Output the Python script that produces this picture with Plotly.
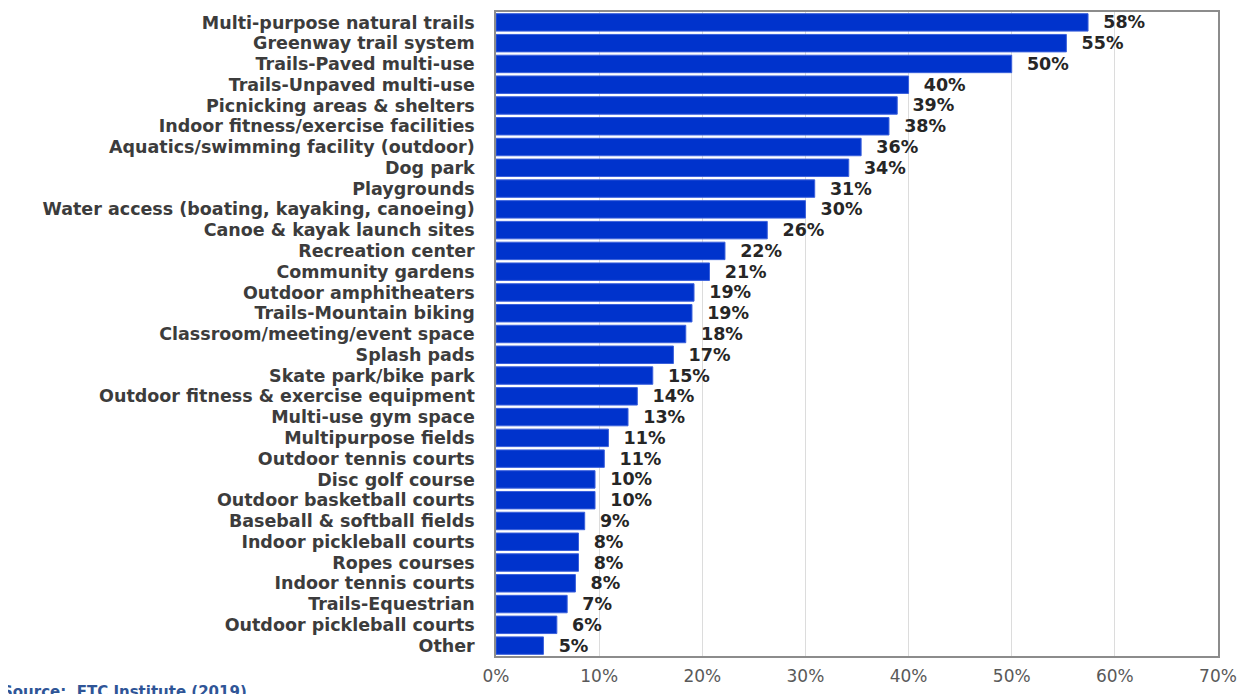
import plotly.graph_objects as go

categories = [
    "Multi-purpose natural trails", "Greenway trail system", "Trails-Paved multi-use",
    "Trails-Unpaved multi-use", "Picnicking areas & shelters", "Indoor fitness/exercise facilities",
    "Aquatics/swimming facility (outdoor)", "Dog park", "Playgrounds",
    "Water access (boating, kayaking, canoeing)", "Canoe & kayak launch sites", "Recreation center",
    "Community gardens", "Outdoor amphitheaters", "Trails-Mountain biking",
    "Classroom/meeting/event space", "Splash pads", "Skate park/bike park",
    "Outdoor fitness & exercise equipment", "Multi-use gym space", "Multipurpose fields",
    "Outdoor tennis courts", "Disc golf course", "Outdoor basketball courts",
    "Baseball & softball fields", "Indoor pickleball courts", "Ropes courses",
    "Indoor tennis courts", "Trails-Equestrian", "Outdoor pickleball courts", "Other",
]
values = [57.4, 55.3, 50.0, 40.0, 38.9, 38.1, 35.4, 34.2, 30.9, 30.0, 26.3, 22.2, 20.7,
          19.2, 19.0, 18.4, 17.2, 15.2, 13.7, 12.8, 10.9, 10.5, 9.6, 9.6, 8.6, 8.0, 8.0,
          7.7, 6.9, 5.9, 4.6]
value_labels = ["58%", "55%", "50%", "40%", "39%", "38%", "36%", "34%", "31%", "30%", "26%",
                "22%", "21%", "19%", "19%", "18%", "17%", "15%", "14%", "13%", "11%", "11%",
                "10%", "10%", "9%", "8%", "8%", "8%", "7%", "6%", "5%"]
tick_vals = [0, 10, 20, 30, 40, 50, 60, 70]
tick_text = ["0%", "10%", "20%", "30%", "40%", "50%", "60%", "70%"]

fig = go.Figure(go.Bar(
    y=categories, x=values, orientation="h",
    marker=dict(color="#0033CC", line=dict(color="#3a60dc", width=1)),
    text=value_labels, texttemplate="  %{text}", textposition="outside",
    cliponaxis=False, constraintext="none",
    textfont=dict(family="DejaVu Sans", size=17.5, color="#262626", weight="bold"),
))
fig.update_layout(
    width=1245, height=694,
    margin=dict(l=488, r=35, t=4, b=46, autoexpand=False),
    paper_bgcolor="white", plot_bgcolor="white",
    bargap=0.16, showlegend=False,
    font=dict(family="DejaVu Sans", color="#262626"),
)
fig.update_xaxes(range=[0, 70], tickvals=tick_vals, ticktext=tick_text,
                 showgrid=True, gridcolor="#dcdcdc", gridwidth=1,
                 showline=True, linecolor="#8c8c8c", mirror=True, linewidth=1.5,
                 tickfont=dict(family="DejaVu Sans", size=17, color="#595959"),
                 ticks="", zeroline=False, ticklabelstandoff=4, automargin=False)
fig.update_yaxes(autorange="reversed", showline=True, linecolor="#8c8c8c", mirror=True,
                 linewidth=1.5, ticks="", ticklabelstandoff=16, automargin=False,
                 tickmode="linear", tick0=0, dtick=1,
                 tickfont=dict(family="DejaVu Sans", size=17.5, color="#3c3c3c", weight="bold"))
fig.add_annotation(text="<b>Source:  ETC Institute (2019)</b>", xref="paper", yref="paper",
                   x=-496/722, y=-36/644, xanchor="left", yanchor="middle", showarrow=False,
                   font=dict(family="DejaVu Sans", size=15, color="#2F5597"))
fig.write_html("out.html")
